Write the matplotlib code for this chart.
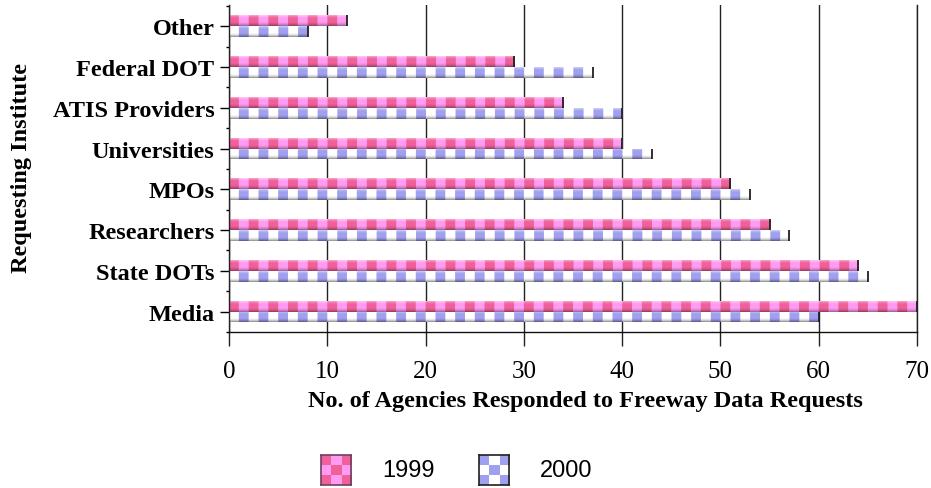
import numpy as np
import matplotlib
matplotlib.use('Agg')
import matplotlib.pyplot as plt

categories = ['Media', 'State DOTs', 'Researchers', 'MPOs', 'Universities',
              'ATIS Providers', 'Federal DOT', 'Other']
v1999 = [70, 64, 55, 51, 40, 34, 29, 12]
v2000 = [60, 65, 57, 53, 43, 40, 37, 8]
xticks = [0, 10, 20, 30, 40, 50, 60, 70]
series_labels = ['1999', '2000']

W, H = 931, 489
fig = plt.figure(figsize=(W / 100, H / 100), dpi=100)
ax = fig.add_axes([229 / W, 1 - 333 / H, (917 - 229) / W, (333 - 6) / H])

serif = 'Liberation Serif'
sans = 'Liberation Sans'

pink_a = np.array([0xF0, 0x60, 0x9A]) / 255
pink_b = np.array([0xFF, 0x9C, 0xF2]) / 255
blue_a = np.array([0xFF, 0xFF, 0xFF]) / 255
blue_b = np.array([0xA0, 0xA0, 0xF0]) / 255

prof1999 = [0.4, 0.2, 0.08, 0, 0, 0, 0, 0, -0.05, -0.12, -0.22, -0.35]
prof2000 = [0.45, 0.25, 0.08, 0, 0, 0, 0, 0, -0.05, -0.12, -0.25, -0.4]


def bar_image(n, ca, cb, profile, sub=10):
    cols = (np.arange(n * sub) // sub) % 2
    base = np.where(cols[:, None] == 0, ca[None, :], cb[None, :])
    rows = []
    for p in profile:
        if p >= 0:
            rows.append(base + (1 - base) * p)
        else:
            rows.append(base * (1 + p))
    return np.clip(np.stack(rows, axis=0), 0, 1)


y = np.arange(len(categories))
h = 0.265

bars1 = ax.barh(y + h / 2, v1999, height=h, color='none', edgecolor='none')
bars2 = ax.barh(y - h / 2, v2000, height=h, color='none', edgecolor='none')

for bars, vals, ca, cb, prof in [(bars1, v1999, pink_a, pink_b, prof1999),
                                 (bars2, v2000, blue_a, blue_b, prof2000)]:
    for rect, v in zip(bars, vals):
        n = int(np.ceil(v))
        img = bar_image(n, ca, cb, prof)
        y0 = rect.get_y()
        y1 = y0 + rect.get_height()
        im = ax.imshow(img, extent=(0, n, y0, y1), aspect='auto',
                       interpolation='bilinear', zorder=2)
        im.set_clip_path(rect)
        ax.plot([v, v], [y0, y1], color='#202020', lw=1.3, zorder=3,
                solid_capstyle='butt')

ax.set_xlim(0, 70)
ax.set_ylim(-0.49, 7.52)
ax.set_aspect('auto')

ax.set_xticks(xticks)
ax.set_xticklabels([str(t) for t in xticks], fontfamily=serif, fontsize=18)
ax.set_yticks(y)
ax.set_yticklabels(categories, fontfamily=serif, fontsize=17.5, fontweight='bold')
ax.set_yticks(np.arange(-0.5, 7.6, 1.0), minor=True)

ax.tick_params(axis='x', direction='out', length=10, width=1, color='#222222', pad=10.5)
ax.tick_params(axis='y', which='major', direction='out', length=6.5, width=1, pad=4)
ax.tick_params(axis='y', which='minor', direction='out', length=2, width=1)

ax.xaxis.grid(True, color='#222222', lw=1)
ax.set_axisbelow(True)

ax.spines['top'].set_visible(False)
ax.spines['right'].set_color('#222222')
ax.spines['left'].set_color('#222222')
ax.spines['bottom'].set_color('#111111')
for s in ax.spines.values():
    s.set_linewidth(1)

fig.text(585 / W, 1 - 402 / H, 'No. of Agencies Responded to Freeway Data Requests',
         ha='center', va='center', fontfamily=serif, fontsize=17.5, fontweight='bold')
fig.text(22 / W, 1 - 168 / H, 'Requesting Institute', rotation=90,
         ha='center', va='center', fontfamily=serif, fontsize=17.5, fontweight='bold')

# legend
leg_specs = [(321, pink_a, pink_b, '#704060', series_labels[0], 382),
             (479, blue_b, blue_a, '#202020', series_labels[1], 540)]
for x0, c1, c2, edge, lab, tx in leg_specs:
    lax = fig.add_axes([x0 / W, 1 - 486 / H, 30 / W, 30 / H])
    chk = (np.add.outer(np.arange(3), np.arange(3)) % 2)
    img = np.where(chk[:, :, None] == 0, c1[None, None, :], c2[None, None, :])
    lax.imshow(img, interpolation='nearest', aspect='auto')
    lax.set_xticks([])
    lax.set_yticks([])
    for s in lax.spines.values():
        s.set_color(edge)
        s.set_linewidth(1.2)
    fig.text(tx / W, 1 - 471 / H, lab, ha='left', va='center',
             fontfamily=sans, fontsize=17)

fig.savefig('out.png', dpi=100)
